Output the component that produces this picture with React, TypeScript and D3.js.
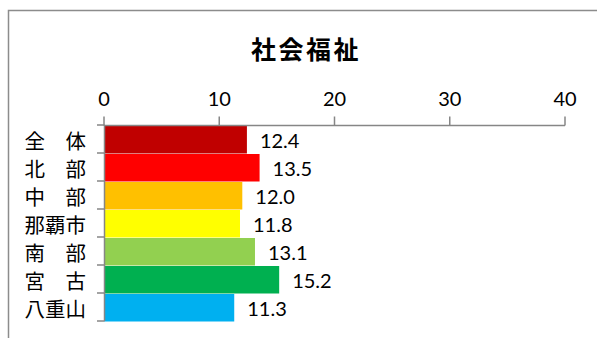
import { useEffect, useRef } from 'react';
import * as d3 from 'd3';

const categories = ['全　体', '北　部', '中　部', '那覇市', '南　部', '宮　古', '八重山'];
const values = [12.4, 13.5, 12.0, 11.8, 13.1, 15.2, 11.3];
const barColors = ['#C00000', '#FF0000', '#FFC000', '#FFFF00', '#92D050', '#00B050', '#00B0F0'];
const xTicks = [0, 10, 20, 30, 40];
const title = '社会福祉';

export default function App() {
  const ref = useRef<SVGSVGElement>(null);

  useEffect(() => {
    if (!ref.current) return;
    const svg = d3.select(ref.current);
    svg.selectAll('*').remove();

    const axisColor = '#868686';
    const latin = 'Lato, "Noto Sans", sans-serif';
    const cjk = '"Noto Sans CJK JP", sans-serif';

    // chart area border (right/bottom edges fall outside the picture)
    svg.append('rect')
      .attr('x', 8.5)
      .attr('y', 10.5)
      .attr('width', 620)
      .attr('height', 360)
      .attr('fill', '#fff')
      .attr('stroke', '#8c8c8c')
      .attr('stroke-width', 1.5);

    svg.append('text')
      .attr('x', 306)
      .attr('y', 48)
      .attr('text-anchor', 'middle')
      .attr('dominant-baseline', 'central')
      .attr('font-family', cjk)
      .attr('font-weight', 'bold')
      .attr('font-size', '25px')
      .attr('letter-spacing', '2.5px')
      .text(title);

    const x = d3.scaleLinear().domain([0, 40]).range([104, 565]);
    const y = d3.scaleBand<string>().domain(categories).range([125, 321]).padding(0);

    // bars
    svg.append('g')
      .selectAll('rect')
      .data(values)
      .enter()
      .append('rect')
      .attr('x', x(0))
      .attr('y', (_, i) => y(categories[i])! + 1)
      .attr('width', d => x(d) - x(0))
      .attr('height', y.bandwidth() - 0.5)
      .attr('fill', (_, i) => barColors[i]);

    // value labels
    svg.append('g')
      .selectAll('text')
      .data(values)
      .enter()
      .append('text')
      .attr('x', d => x(d) + 13)
      .attr('y', (_, i) => y(categories[i])! + y.bandwidth() / 2 + 1)
      .attr('dominant-baseline', 'central')
      .attr('font-family', latin)
      .attr('font-size', '20px')
      .attr('fill', '#000')
      .text(d => d.toFixed(1));

    // top value axis
    const top = svg.append('g').attr('transform', 'translate(0,125.5)');
    top.append('line')
      .attr('x1', x(0)).attr('x2', x(40))
      .attr('stroke', axisColor).attr('stroke-width', 1.5);
    top.selectAll('line.tick')
      .data(xTicks)
      .enter()
      .append('line')
      .attr('class', 'tick')
      .attr('x1', d => x(d)).attr('x2', d => x(d))
      .attr('y1', -9).attr('y2', 0)
      .attr('stroke', axisColor).attr('stroke-width', 1.5);
    top.selectAll('text')
      .data(xTicks)
      .enter()
      .append('text')
      .attr('x', d => x(d))
      .attr('y', -28)
      .attr('text-anchor', 'middle')
      .attr('dominant-baseline', 'central')
      .attr('font-family', latin)
      .attr('font-size', '20px')
      .text(d => String(d));

    // category axis
    const left = svg.append('g');
    left.append('line')
      .attr('x1', 104.5).attr('x2', 104.5)
      .attr('y1', 125).attr('y2', 321)
      .attr('stroke', axisColor).attr('stroke-width', 1.5);
    const bounds = categories.map(c => y(c)!).concat([y.range()[1]]);
    left.selectAll('line.tick')
      .data(bounds)
      .enter()
      .append('line')
      .attr('class', 'tick')
      .attr('x1', 97).attr('x2', 104.5)
      .attr('y1', d => d).attr('y2', d => d)
      .attr('stroke', axisColor).attr('stroke-width', 1.5);
    left.selectAll('text')
      .data(categories)
      .enter()
      .append('text')
      .attr('x', 86)
      .attr('y', d => y(d)! + y.bandwidth() / 2 + 1)
      .attr('text-anchor', 'end')
      .attr('dominant-baseline', 'central')
      .attr('font-family', cjk)
      .attr('font-size', '20.5px')
      .text(d => d);
  }, []);

  return (
    <svg
      ref={ref}
      width={597}
      height={338}
      style={{ position: 'absolute', left: 0, top: 0, background: '#fff' }}
    />
  );
}
